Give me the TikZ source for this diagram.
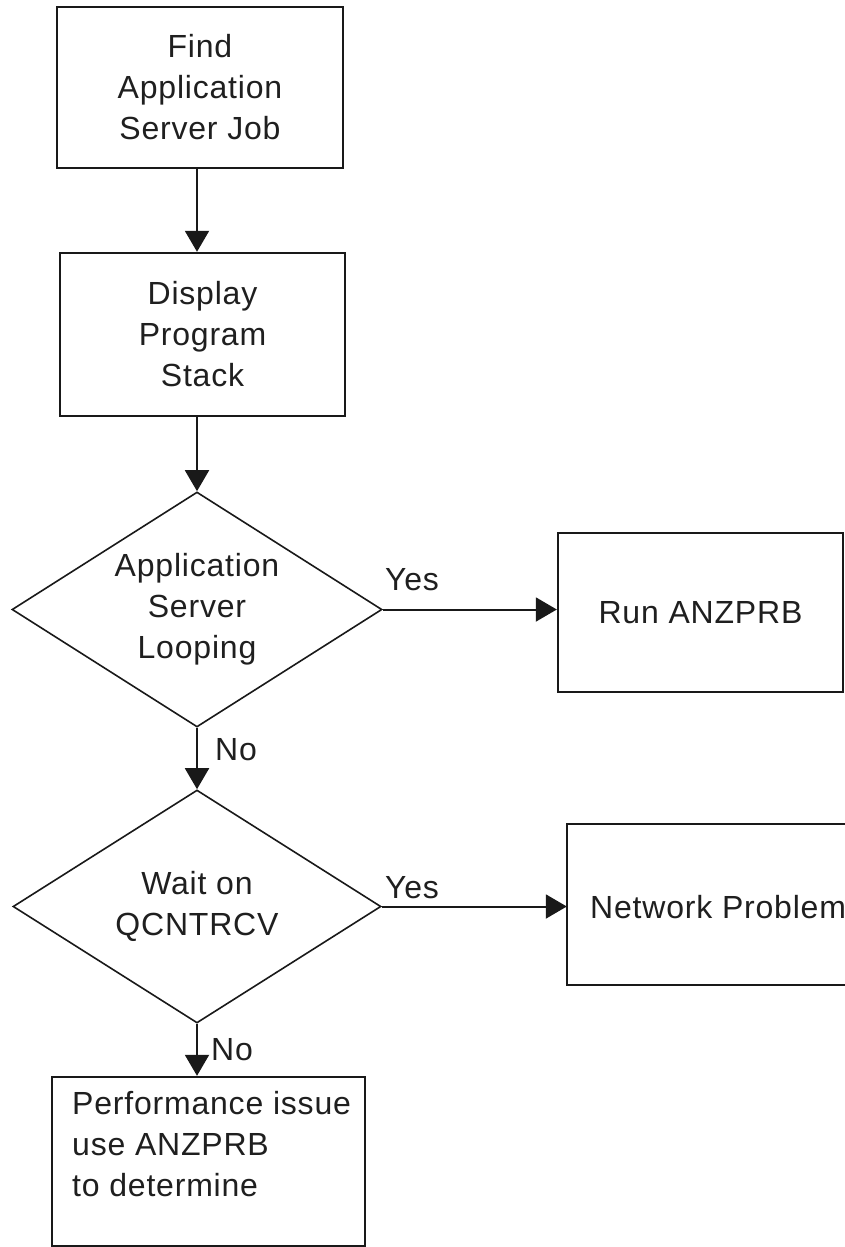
\documentclass[tikz,border=0pt]{standalone}
\usepackage{fontspec}
\setmainfont{Liberation Sans}[LetterSpace=2.5]
\usetikzlibrary{shapes.geometric,arrows.meta,calc}
\begin{document}
\begin{tikzpicture}[x=1pt,y=-1pt,
  txt/.style={font=\fontsize{32}{41}\selectfont, align=center, inner sep=0pt, text=black!88},
  box/.style={draw=black!90, line width=2.4pt, inner sep=0pt, txt},
  dia/.style={draw=black!90, line width=1.6pt, diamond, inner sep=0pt},
  boxline/.style={draw=black!90, line width=2.4pt},
  arr/.style={draw=black!90, line width=2pt, -{Triangle[length=21pt,width=24pt]}}]
\useasboundingbox (0,0) rectangle (844,1247);

\node[box, minimum width=286pt, minimum height=161pt] (b1) at (200,87.5) {Find\\Application\\Server Job};
\node[box, minimum width=285pt, minimum height=163pt] (b2) at (202.5,334.5) {Display\\Program\\Stack};

\node[dia, minimum width=370pt, minimum height=235pt] (d1) at (197,609.5) {};
\node[txt] (d1t) at (d1.center) {Application\\Server\\Looping};

\node[box, minimum width=285pt, minimum height=159pt] (run) at (700.5,612.5) {Run ANZPRB};

\node[dia, minimum width=368pt, minimum height=233pt] (d2) at (197,906.5) {};
\node[txt] (d2t) at (d2.center) {Wait on\\QCNTRCV};

\node[minimum width=281pt, minimum height=161pt, inner sep=0pt] (net) at (707.5,904.5) {};
\draw[boxline] (net.north east) -- (net.north west) -- (net.south west) -- (net.south east);
\node[txt, anchor=west] (nett) at (590,907) {Network Problem};

\node[box, minimum width=313pt, minimum height=169pt] (perf) at (208.5,1161.5) {};
\node[txt, align=left, anchor=north west] (perft) at (72,1091) {Performance issue\\use ANZPRB\\to determine};

\draw[arr] (b1.south -| d1.north) -- (b2.north -| d1.north);
\draw[arr] (b2.south -| d1.north) -- (d1.north);
\draw[arr] (d1.east) -- (d1.east -| run.west);
\draw[arr] (d1.south) -- (d2.north);
\draw[arr] (d2.east) -- (d2.east -| net.west);
\draw[arr] (d2.south) -- (d2.south |- perf.north);

\node[txt] (yes1) at (412,580) {Yes};
\node[txt] (no1) at (236,750) {No};
\node[txt] (yes2) at (412,888) {Yes};
\node[txt] (no2) at (232,1050) {No};
\end{tikzpicture}
\end{document}
